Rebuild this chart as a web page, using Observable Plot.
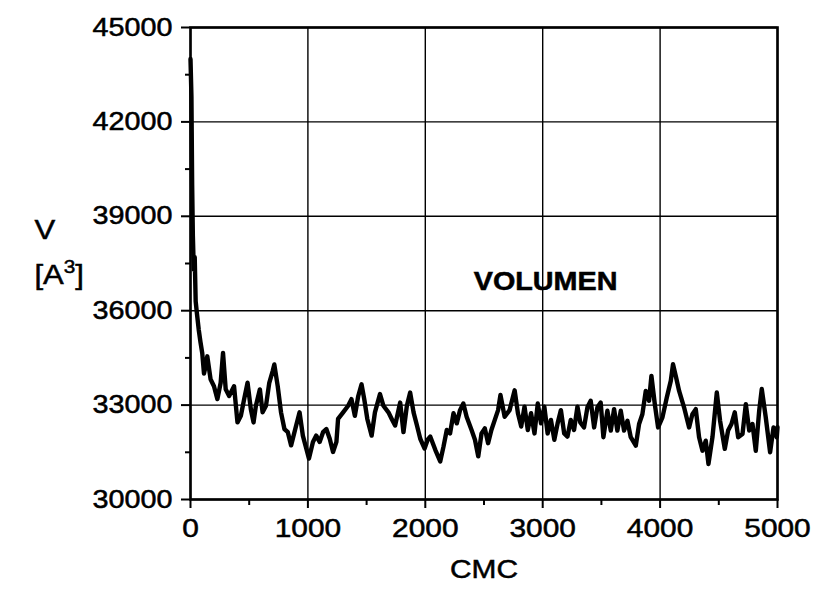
<!DOCTYPE html>
<html>
<head>
<meta charset="utf-8">
<script src="https://cdn.jsdelivr.net/npm/d3@7"></script>
<script src="https://cdn.jsdelivr.net/npm/@observablehq/plot@0.6"></script>
<style>
  html, body { margin: 0; padding: 0; background: #fff; }
  #chart svg { display: block; }
  #chart svg text { stroke: #000; stroke-width: 0.5px; paint-order: stroke; }
</style>
</head>
<body>
<div id="chart"></div>
<script>
// Volume trace V [A³] against CMC step
const cmc = [
  0, 8, 14, 20, 28, 36, 44, 55, 70, 85, 100, 115, 129, 143, 171, 200, 229, 257, 277, 300,
  329, 371, 400, 429, 457, 486, 514, 537, 557, 591, 614, 643, 671, 700, 714, 743, 771, 800, 829, 857,
  900, 929, 957, 986, 1009, 1043, 1071, 1100, 1129, 1157, 1186, 1214, 1243, 1257, 1300, 1343, 1371, 1400, 1429, 1457,
  1480, 1506, 1543, 1571, 1614, 1643, 1686, 1714, 1743, 1786, 1814, 1843, 1871, 1900, 1929, 1957, 1994, 2020, 2042, 2085,
  2127, 2155, 2183, 2211, 2240, 2268, 2296, 2324, 2352, 2394, 2423, 2451, 2479, 2507, 2535, 2563, 2592, 2620, 2640, 2676,
  2718, 2761, 2789, 2817, 2845, 2873, 2901, 2930, 2958, 2986, 3014, 3042, 3070, 3099, 3127, 3155, 3183, 3211, 3239, 3267,
  3296, 3320, 3352, 3381, 3409, 3438, 3466, 3494, 3517, 3551, 3580, 3608, 3636, 3665, 3693, 3722, 3750, 3793, 3821, 3849,
  3878, 3906, 3926, 3955, 3983, 4020, 4057, 4091, 4110, 4135, 4162, 4204, 4247, 4275, 4304, 4332, 4361, 4389, 4412, 4446,
  4483, 4511, 4551, 4579, 4608, 4636, 4665, 4702, 4730, 4759, 4787, 4815, 4844, 4866, 4900, 4937, 4966, 4994, 5000
];
const volume = [
  44000, 42800, 40000, 38400, 37300, 37700, 36300, 35900, 35400, 35000, 34650, 34000, 34240, 34550, 33820, 33600, 33190, 33710, 34660, 33500,
  33290, 33600, 32450, 32660, 33190, 33710, 32870, 32450, 32980, 33500, 32770, 32980, 33710, 34080, 34290, 33600, 32770, 32240, 32140, 31720,
  32350, 32770, 32030, 31620, 31300, 31830, 32030, 31830, 32140, 32240, 31930, 31510, 31830, 32560, 32770, 32980, 33190, 32660, 33290, 33660,
  33190, 32560, 32030, 32770, 33350, 32980, 32770, 32560, 32350, 33080, 32140, 32980, 33400, 32770, 32350, 31930, 31620, 31900, 32000, 31580,
  31210, 31680, 32210, 32100, 32740, 32420, 32840, 33050, 32630, 32210, 31900, 31370, 32100, 32260, 31790, 32210, 32530, 32840, 33320, 32630,
  32840, 33470, 32740, 32320, 32950, 32210, 32740, 32100, 33050, 32420, 32950, 32100, 32530, 31900, 32420, 32840, 32100, 32000, 32530, 32210,
  32950, 32450, 32290, 32930, 33140, 32290, 32930, 33080, 31980, 32820, 32190, 32870, 32190, 32820, 32190, 32500, 31980, 31710, 32400, 32710,
  33450, 33140, 33930, 33030, 32290, 32610, 33240, 33770, 34300, 33900, 33450, 32930, 32290, 32710, 32870, 31980, 31550, 31870, 31130, 31980,
  33400, 32500, 31610, 32190, 32400, 32770, 31980, 32080, 33030, 32190, 32400, 31550, 32820, 33510, 32610, 31500, 32290, 31980, 32300
];

// Axis ticks
const xTicks = [0, 1000, 2000, 3000, 4000, 5000];
const xMinorTicks = [500, 1500, 2500, 3500, 4500];
const yTicks = [30000, 33000, 36000, 39000, 42000, 45000];
const yMinorTicks = [31500, 34500, 37500, 40500, 43500];

// Labels
const xLabel = ["CMC"];
const yLabelTop = ["V"];
const yLabelBottom = ["[A3]"];
const seriesLabel = [{text: "VOLUMEN", x: 3025, y: 36900}];

const points = cmc.map((c, i) => ({cmc: c, v: volume[i]}));

const chart = Plot.plot({
  width: 816,
  height: 594,
  marginLeft: 190,
  marginRight: 39,
  marginTop: 27,
  marginBottom: 95,
  style: {fontFamily: "'Liberation Sans', Arial, sans-serif", fontSize: "25px", color: "#000", background: "#fff"},
  x: {domain: [0, 5000], axis: null},
  y: {domain: [30000, 45000], axis: null},
  marks: [
    Plot.ruleX(xTicks, {stroke: "#000", strokeWidth: 1.4}),
    Plot.ruleY(yTicks, {stroke: "#000", strokeWidth: 1.4}),
    Plot.axisX(xTicks, {anchor: "bottom", tickSize: 9, tickPadding: 10, strokeWidth: 2, label: null, fontSize: 26, tickFormat: d => String(d)}),
    Plot.axisX(xMinorTicks, {anchor: "bottom", tickSize: 6, strokeWidth: 2, text: null, label: null}),
    Plot.axisY(yTicks, {anchor: "left", tickSize: 9, tickPadding: 9, strokeWidth: 2, label: null, fontSize: 25, tickFormat: d => String(d)}),
    Plot.axisY(yMinorTicks, {anchor: "left", tickSize: 5, strokeWidth: 2, text: null, label: null}),
    Plot.line(points, {x: "cmc", y: "v", stroke: "#000", strokeWidth: 4.4, strokeLinejoin: "round", strokeLinecap: "round"}),
    Plot.frame({stroke: "#000", strokeWidth: 2.6}),
    Plot.text(seriesLabel, {x: "x", y: "y", text: "text", fontWeight: "bold", fontSize: 25}),
    Plot.text(xLabel, {frameAnchor: "bottom", dy: 78, fontSize: 26}),
    Plot.text(yLabelTop, {frameAnchor: "left", dx: -156, dy: -33, fontSize: 27}),
    Plot.text(yLabelBottom, {frameAnchor: "left", dx: -156, dy: 12, fontSize: 27, className: "unit-label"})
  ]
});

// Widen the glyphs horizontally around each label's anchor point
const SX = 1.15;
chart.querySelectorAll("text").forEach(t => {
  const xa = t.getAttribute("x");
  let shift = "";
  if (xa !== null && !/em$/.test(xa)) {
    shift = ` translate(${+xa},0)`;
    t.removeAttribute("x");
  }
  const tr = t.getAttribute("transform") || "";
  t.setAttribute("transform", `${tr}${shift} scale(${SX},1)`);
});

// Set the exponent of the unit label as a raised superscript
chart.querySelectorAll(".unit-label text").forEach(t => {
  if (t.textContent !== "[A3]") return;
  const ns = "http://www.w3.org/2000/svg";
  t.textContent = "[A";
  const sup = document.createElementNS(ns, "tspan");
  sup.setAttribute("dy", "-11");
  sup.setAttribute("font-size", "18");
  sup.textContent = "3";
  const close = document.createElementNS(ns, "tspan");
  close.setAttribute("dy", "11");
  close.textContent = "]";
  t.appendChild(sup);
  t.appendChild(close);
});

document.getElementById("chart").appendChild(chart);
</script>
</body>
</html>
